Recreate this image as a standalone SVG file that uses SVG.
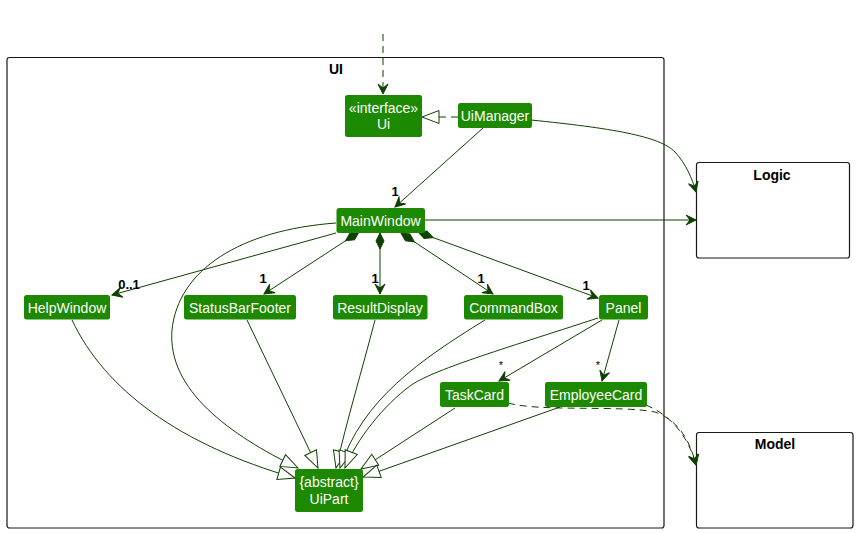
<svg xmlns="http://www.w3.org/2000/svg" width="858" height="533" viewBox="0 0 858 533">
<style>
.pkg{fill:#fff;stroke:#181818;stroke-width:1.2}
.ttl{font-family:"Liberation Sans",Arial,sans-serif;font-size:14px;font-weight:bold;fill:#000;text-anchor:middle}
.node rect{fill:#1D8900;stroke:none}
.node text{font-family:"Liberation Sans",Arial,sans-serif;font-size:14px;fill:#fff;text-anchor:middle}
.e{fill:none;stroke:#0E4100;stroke-width:1}
.d{stroke-dasharray:7,5}
.lbl{font-family:"Liberation Sans",Arial,sans-serif;font-size:13px;font-weight:bold;fill:#000;text-anchor:middle}
.star{font-family:"Liberation Sans",Arial,sans-serif;font-size:11px;fill:#000;text-anchor:middle}
</style>
<defs>
<marker id="arr" viewBox="-11 -6 12 12" refX="0" refY="0" markerWidth="12" markerHeight="12" markerUnits="userSpaceOnUse" orient="auto"><path d="M0,0 L-10,-5 L-6,0 L-10,5 Z" fill="#0E4100" stroke="#0E4100" stroke-width="1"/></marker>
<marker id="tri" viewBox="-19 -8 20 16" refX="0" refY="0" markerWidth="20" markerHeight="16" markerUnits="userSpaceOnUse" orient="auto"><path d="M0,0 L-17,-6.5 L-17,6.5 Z" fill="#fff" stroke="#0E4100" stroke-width="1"/></marker>
<marker id="dia" viewBox="-1 -5 19 10" refX="0" refY="0" markerWidth="19" markerHeight="10" markerUnits="userSpaceOnUse" orient="auto"><path d="M0,0 L8,-4 L16,0 L8,4 Z" fill="#0E4100" stroke="#0E4100" stroke-width="1"/></marker>
</defs>

<g id="pkg-UI"><rect class="pkg" x="7" y="57.5" width="657" height="470.5" rx="2.5"/><text class="ttl" x="336" y="74">UI</text></g>
<g id="pkg-Logic"><rect class="pkg" x="696.5" y="162.5" width="153" height="95.5" rx="2.5"/><text class="ttl" x="772" y="180">Logic</text></g>
<g id="pkg-Model"><rect class="pkg" x="696.5" y="432.5" width="156.5" height="95.5" rx="2.5"/><text class="ttl" x="775" y="449">Model</text></g>

<g id="connectors">
<path class="e d" d="M383,34 L383,94" marker-end="url(#arr)"/>
<path class="e d" d="M458,117 L422,117" marker-end="url(#tri)"/>
<path class="e" d="M531,120 C 610,128 660,136 675,152 C 686,164 692,178 696,192" marker-end="url(#arr)"/>
<path class="e" d="M483,128 L395,207" marker-end="url(#arr)"/>
<path class="e" d="M425,220 L696,220" marker-end="url(#arr)"/>
<path class="e" d="M336,233 L112,295" marker-end="url(#arr)"/>
<path class="e" d="M359,232 L264,294" marker-start="url(#dia)" marker-end="url(#arr)"/>
<path class="e" d="M380,233 L380,294" marker-start="url(#dia)" marker-end="url(#arr)"/>
<path class="e" d="M401,233 L493,294" marker-start="url(#dia)" marker-end="url(#arr)"/>
<path class="e" d="M418,232 L598,298" marker-start="url(#dia)" marker-end="url(#arr)"/>
<path class="e" d="M602,320 L499,381" marker-end="url(#arr)"/>
<path class="e" d="M619,320 L602,381" marker-end="url(#arr)"/>
<path class="e d" d="M508,403 C 540,412 620,405 655,412 C 678,420 690,440 696,465" marker-end="url(#arr)"/>
<path class="e d" d="M646,405 C 670,415 688,435 696,465" marker-end="url(#arr)"/>
<path class="e" d="M336,223 C 240,230 178,270 172,330 C 167,390 230,435 298,468" marker-end="url(#tri)"/>
<path class="e" d="M72,320 C 105,390 180,445 295,478" marker-end="url(#tri)"/>
<path class="e" d="M247,320 L318,468" marker-end="url(#tri)"/>
<path class="e" d="M375,320 C 362,370 347,420 336,468" marker-end="url(#tri)"/>
<path class="e" d="M485,320 C 420,360 362,400 340,468" marker-end="url(#tri)"/>
<path class="e" d="M598,318 C 500,350 432,370 410,386 C 384,405 356,440 345,468" marker-end="url(#tri)"/>
<path class="e" d="M455,408 L361,469" marker-end="url(#tri)"/>
<path class="e" d="M560,407 L363,477" marker-end="url(#tri)"/>
<text class="lbl" x="395" y="196">1</text>
<text class="lbl" x="129" y="289">0..1</text>
<text class="lbl" x="263" y="283">1</text>
<text class="lbl" x="375" y="283">1</text>
<text class="lbl" x="481" y="283">1</text>
<text class="lbl" x="586" y="290">1</text>
<text class="star" x="501" y="369">*</text>
<text class="star" x="598" y="369">*</text>
</g>

<g id="Ui" class="node"><rect x="345" y="95" width="77" height="42" rx="2.5"/><text x="383.5" y="113">«interface»</text><text x="383.5" y="129">Ui</text></g>
<g id="UiManager" class="node"><rect x="458" y="103" width="74" height="25" rx="2.5"/><text x="495" y="121">UiManager</text></g>
<g id="MainWindow" class="node"><rect x="336.5" y="208" width="88.5" height="25" rx="2.5"/><text x="380.5" y="226">MainWindow</text></g>
<g id="HelpWindow" class="node"><rect x="24" y="295" width="86" height="24.5" rx="2.5"/><text x="67" y="313">HelpWindow</text></g>
<g id="StatusBarFooter" class="node"><rect x="184" y="295" width="112" height="24.5" rx="2.5"/><text x="240" y="313">StatusBarFooter</text></g>
<g id="ResultDisplay" class="node"><rect x="333" y="295" width="94.5" height="24.5" rx="2.5"/><text x="380" y="313">ResultDisplay</text></g>
<g id="CommandBox" class="node"><rect x="464" y="295" width="99" height="24.5" rx="2.5"/><text x="513.5" y="313">CommandBox</text></g>
<g id="Panel" class="node"><rect x="599" y="295" width="49" height="24.5" rx="2.5"/><text x="623.5" y="313">Panel</text></g>
<g id="TaskCard" class="node"><rect x="440" y="382" width="69" height="25" rx="2.5"/><text x="474.5" y="400">TaskCard</text></g>
<g id="EmployeeCard" class="node"><rect x="545" y="382" width="102" height="25" rx="2.5"/><text x="596" y="400">EmployeeCard</text></g>
<g id="UiPart" class="node"><rect x="295" y="469" width="68" height="43" rx="2.5"/><text x="329" y="487">{abstract}</text><text x="329" y="504">UiPart</text></g>
</svg>
